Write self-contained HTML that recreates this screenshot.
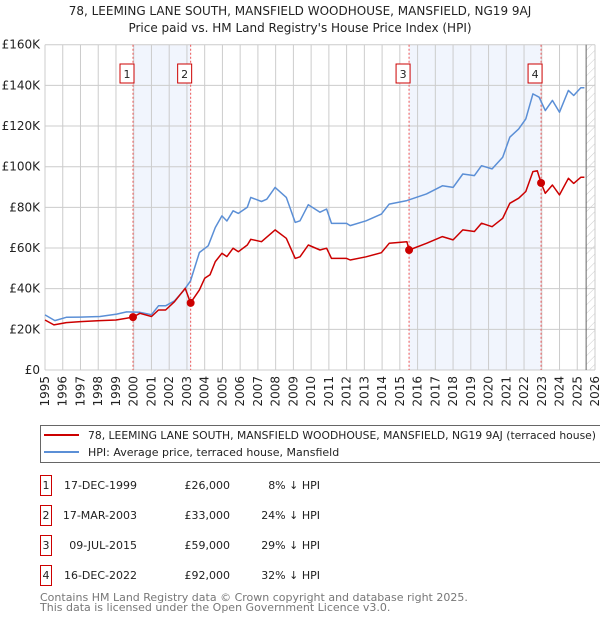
<!DOCTYPE html>
<html><head><meta charset="utf-8">
<style>
body{margin:0;background:#fff;font-family:"DejaVu Sans","Liberation Sans",sans-serif;}
svg text{font-family:"DejaVu Sans","Liberation Sans",sans-serif;}
</style></head>
<body>
<svg id="c" width="600" height="620" xmlns="http://www.w3.org/2000/svg"></svg>
<script>
const hpiYears=[1995,1995.56,1996.2,1996.97,1998.1,1999.04,1999.6,2000.35,2001,2001.4,2001.8,2002.3,2002.8,2003.2,2003.7,2004.2,2004.6,2004.97,2005.25,2005.6,2005.9,2006.4,2006.6,2007.2,2007.5,2007.97,2008.6,2009.1,2009.37,2009.84,2010.5,2010.87,2011.15,2012,2012.2,2013.1,2013.96,2014.4,2015.4,2016.5,2017.4,2018,2018.55,2019.2,2019.6,2020.2,2020.8,2021.2,2021.7,2022.1,2022.5,2022.85,2023.2,2023.6,2024,2024.5,2024.8,2025.2,2025.4];
const hpiValues=[27.1,24.3,25.9,26,26.3,27.5,28.6,28.4,27.2,31.6,31.6,34,38.9,43.8,57.8,61.1,70.1,75.8,73.3,78.3,77,80,84.9,82.9,84,89.8,84.9,72.6,73.4,81.3,77.6,79.2,72.1,72.1,71,73.4,76.7,81.6,83.3,86.6,90.6,89.8,96.4,95.6,100.5,98.9,104.6,114.5,118.6,123.5,135.8,134.2,127.6,132.6,126.8,137.5,135,138.8,138.8];
const ppYears=[1995,1995.5,1996.2,1997,1998.1,1999,1999.96,2000.35,2001,2001.4,2001.8,2002.3,2002.9,2003.2,2003.7,2004,2004.3,2004.6,2004.97,2005.25,2005.6,2005.9,2006.4,2006.6,2007.2,2007.97,2008.6,2009.1,2009.37,2009.84,2010.5,2010.87,2011.15,2012,2012.2,2013.1,2013.96,2014.4,2015.4,2015.52,2016.5,2017.4,2018,2018.55,2019.2,2019.6,2020.2,2020.8,2021.2,2021.7,2022.1,2022.5,2022.75,2022.96,2023.2,2023.6,2024,2024.5,2024.8,2025.2,2025.4];
const ppValues=[24.6,22.2,23.3,23.8,24.3,24.6,26,27.9,26.3,29.5,29.5,33.6,40.2,33,39.4,45.1,46.8,53.3,57.4,55.8,59.9,58.2,61.5,64.3,63.1,68.9,64.8,54.9,55.7,61.5,59,59.9,54.9,54.9,54.1,55.7,57.7,62.3,63.1,59,62.3,65.6,64,68.9,68.1,72.2,70.5,74.6,82,84.5,87.8,97.6,98,92,86.9,91,86.1,94.3,91.8,94.8,94.8];
const saleYears=[1999.96,2003.21,2015.52,2022.96];
const saleValues=[26,33,59,92];
const saleLabels=["1","2","3","4"];
const yTicks=[0,20,40,60,80,100,120,140,160];
const xTicks=[1995,1996,1997,1998,1999,2000,2001,2002,2003,2004,2005,2006,2007,2008,2009,2010,2011,2012,2013,2014,2015,2016,2017,2018,2019,2020,2021,2022,2023,2024,2025,2026];
const tableDates=["17-DEC-1999","17-MAR-2003","09-JUL-2015","16-DEC-2022"];
const tablePrices=["£26,000","£33,000","£59,000","£92,000"];
const tableDiffs=["8% ↓ HPI","24% ↓ HPI","29% ↓ HPI","32% ↓ HPI"];

const NS="http://www.w3.org/2000/svg",svg=document.getElementById('c');
const L=45,R=595,T=44.7,B=370;
const X=y=>L+(y-1995)/(2026-1995)*(R-L);
const Y=v=>B-v/160*(B-T);
function el(t,a,p){const e=document.createElementNS(NS,t);for(const k in a)e.setAttribute(k,a[k]);(p||svg).appendChild(e);return e;}

const defs=el('defs',{});
const pat=el('pattern',{id:'h',width:6,height:6,patternUnits:'userSpaceOnUse',patternTransform:'rotate(45)'},defs);
el('line',{x1:0,y1:0,x2:0,y2:6,stroke:'#ccc','stroke-width':1},pat);

let t=el('text',{x:300,y:15,'text-anchor':'middle','font-size':12,fill:'#222'});t.textContent="78, LEEMING LANE SOUTH, MANSFIELD WOODHOUSE, MANSFIELD, NG19 9AJ";

t=el('text',{x:300,y:32,'text-anchor':'middle','font-size':12,fill:'#222'});t.textContent="Price paid vs. HM Land Registry's House Price Index (HPI)";


let s=el('rect',{x:X(saleYears[0]),y:T,width:X(saleYears[1])-X(saleYears[0]),height:B-T,fill:'#eef3fc',opacity:0.8});

s=el('rect',{x:X(saleYears[2]),y:T,width:X(saleYears[3])-X(saleYears[2]),height:B-T,fill:'#eef3fc',opacity:0.8});

s=el('rect',{x:X(2025.5),y:T,width:R-X(2025.5),height:B-T,fill:'url(#h)'});


yTicks.forEach(v=>{
 const g=el('line',{x1:L,x2:R,y1:Y(v),y2:Y(v),stroke:'#ccc','stroke-width':1});
 
 const tx=el('text',{x:L-5,y:Y(v)+4,'text-anchor':'end','font-size':12,fill:'#222'});tx.textContent=v==0?'£0':'£'+v+'K';
 
});
xTicks.forEach(yr=>{
 const g=el('line',{x1:X(yr),x2:X(yr),y1:T,y2:B,stroke:'#ccc','stroke-width':1});
 
 const tx=el('text',{x:0,y:0,'text-anchor':'end','font-size':12,fill:'#222',transform:`translate(${X(yr)+4},${B+6}) rotate(-90)`});tx.textContent=yr;
 
});
let ax=el('line',{x1:X(2025.5),x2:X(2025.5),y1:T,y2:B,stroke:'#666','stroke-width':1});


saleYears.forEach((yr,i)=>{
 const l=el('line',{x1:X(yr),x2:X(yr),y1:T,y2:B,stroke:'#e55','stroke-width':1,'stroke-dasharray':'2,2'});
 
});

function path(xs,vs,col,name){
 const d=xs.map((x,i)=>(i?'L':'M')+X(x).toFixed(1)+','+Y(vs[i]).toFixed(1)).join('');
 const p=el('path',{d,fill:'none',stroke:col,'stroke-width':1.5,'stroke-linejoin':'round'});
 
}
path(hpiYears,hpiValues,'#5b8fd6','hpi-line');
path(ppYears,ppValues,'#cc0000','price-paid-line');

saleYears.forEach((yr,i)=>{
 const c=el('circle',{cx:X(yr),cy:Y(saleValues[i]),r:4,fill:'#cc0000'});
 
 const g=el('g',{});
 
 el('rect',{x:X(yr)-13,y:64,width:14,height:19,fill:'#fff',stroke:'#cc0000','stroke-width':1},g);
 const tx=el('text',{x:X(yr)-6,y:78,'text-anchor':'middle','font-size':11,fill:'#222'},g);tx.textContent=saleLabels[i];
});

const lg=el('g',{});
el('rect',{x:40.5,y:425.5,width:570,height:37,fill:'#fff',stroke:'#666'},lg);
let le=el('g',{},lg);
el('line',{x1:44,x2:79,y1:435,y2:435,stroke:'#cc0000','stroke-width':2},le);
t=el('text',{x:88,y:439,'font-size':11,fill:'#222',textLength:508,lengthAdjust:'spacingAndGlyphs'},le);t.textContent="78, LEEMING LANE SOUTH, MANSFIELD WOODHOUSE, MANSFIELD, NG19 9AJ (terraced house)";
le=el('g',{},lg);
el('line',{x1:44,x2:79,y1:452,y2:452,stroke:'#5b8fd6','stroke-width':2},le);
t=el('text',{x:88,y:456,'font-size':11,fill:'#222'},le);t.textContent="HPI: Average price, terraced house, Mansfield";

tableDates.forEach((d,i)=>{
 const y=483+i*30;
 const g=el('g',{});
 el('rect',{x:40.5,y:y-7.5,width:11,height:20,fill:'#fff',stroke:'#cc0000'},g);
 let tt=el('text',{x:46,y:y+6,'text-anchor':'middle','font-size':11,fill:'#222'},g);tt.textContent=saleLabels[i];
 tt=el('text',{x:137,y:y+6,'text-anchor':'end','font-size':11,fill:'#222'},g);tt.textContent=d;
 tt=el('text',{x:230,y:y+6,'text-anchor':'end','font-size':11,fill:'#222'},g);tt.textContent=tablePrices[i];
 tt=el('text',{x:320,y:y+6,'text-anchor':'end','font-size':11,fill:'#222'},g);tt.textContent=tableDiffs[i];
});
t=el('text',{x:40,y:601,'font-size':11,fill:'#777'});t.textContent="Contains HM Land Registry data © Crown copyright and database right 2025.";

t=el('text',{x:40,y:611,'font-size':11,fill:'#777'});t.textContent="This data is licensed under the Open Government Licence v3.0.";

</script>
</body></html>
